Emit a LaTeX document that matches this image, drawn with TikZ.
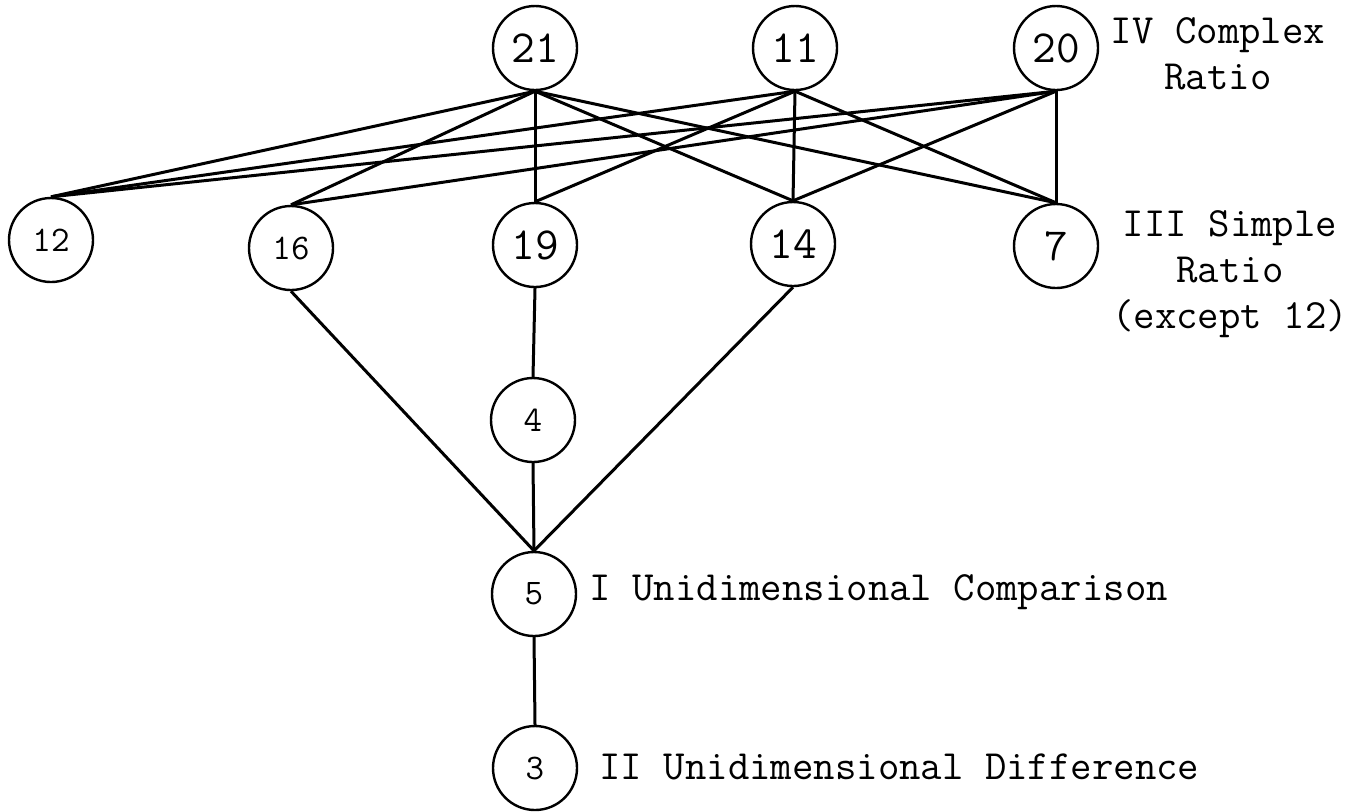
\documentclass[tikz,border=0pt]{standalone}
\usepackage{fontspec}
\tikzset{
  stage/.style={draw, circle, line width=1.2pt, minimum size=42pt, inner sep=0pt, font=\ttfamily\fontsize{23}{23}\selectfont},
  smallstage/.style={stage, font=\ttfamily\fontsize{18}{18}\selectfont},
  levellabel/.style={font=\ttfamily\fontsize{20.8}{23}\selectfont, align=center, inner sep=0pt}
}
\begin{document}
\begin{tikzpicture}[x=0.5pt, y=-0.5pt, line width=1.5pt]
\useasboundingbox (0, 0) rectangle (1363, 811);

\node [stage] (n21) at (535, 48) {21};
\node [stage] (n11) at (795, 48) {11};
\node [stage] (n20) at (1056, 48) {20};

\node [smallstage] (n12) at (51, 240) {12};
\node [smallstage] (n16) at (291, 248) {16};
\node [stage] (n19) at (535, 245) {19};
\node [stage] (n14) at (793, 244) {14};
\node [stage] (n7) at (1056, 246) {7};

\node [smallstage] (n4) at (533, 420) {4};
\node [smallstage] (n5) at (534, 594) {5};
\node [smallstage] (n3) at (535, 768) {3};

\node [levellabel] (lIV) at (1218, 54) {IV Complex\\Ratio};
\node [levellabel] (lIII) at (1230, 274) {III Simple\\Ratio\\(except 12)};
\node [levellabel, anchor=west] (lI) at (588, 592) {I Unidimensional Comparison};
\node [levellabel, anchor=west] (lII) at (598, 767) {II Unidimensional Difference};

\draw (n21.south) -- (n12.north);
\draw (n21.south) -- (n16.north);
\draw (n21.south) -- (n19.north);
\draw (n21.south) -- (n14.north);
\draw (n21.south) -- (n7.north);

\draw (n11.south) -- (n12.north);
\draw (n11.south) -- (n19.north);
\draw (n11.south) -- (n14.north);
\draw (n11.south) -- (n7.north);

\draw (n20.south) -- (n12.north);
\draw (n20.south) -- (n16.north);
\draw (n20.south) -- (n14.north);
\draw (n20.south) -- (n7.north);

\draw (n16.south) -- (n5.north);
\draw (n19.south) -- (n4.north);
\draw (n4.south) -- (n5.north);
\draw (n14.south) -- (n5.north);
\draw (n5.south) -- (n3.north);
\end{tikzpicture}
\end{document}
